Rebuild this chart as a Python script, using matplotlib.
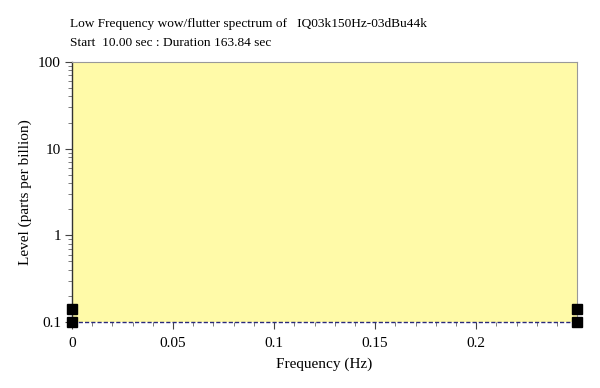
import matplotlib
matplotlib.use("Agg")
import matplotlib.pyplot as plt
from matplotlib.ticker import FixedLocator, LogLocator, NullFormatter

# data
freq = [0.0, 0.2499]
level = [0.1, 0.1]
marker_freq = [0.0, 0.0, 0.2499, 0.2499]
marker_level = [0.1, 0.141, 0.1, 0.141]
xticks = [0, 0.05, 0.1, 0.15, 0.2]
xticklabels = ["0", "0.05", "0.1", "0.15", "0.2"]
yticks = [0.1, 1, 10, 100]
yticklabels = ["0.1", "1", "10", "100"]

plt.rcParams['font.family'] = ['Liberation Serif', 'DejaVu Serif']

fig = plt.figure(figsize=(6, 3.88), dpi=100)
fig.patch.set_facecolor("white")
ax = fig.add_axes([0.12, 0.1701, 0.8417, 0.6701])
ax.set_facecolor("#fffaa8")

ax.plot(freq, level, color="#2a2a7a", lw=1.0, ls=(0, (3, 1.5)), clip_on=False, zorder=3)
ax.plot(marker_freq, marker_level, ls="none", marker="s", ms=7, color="black",
        clip_on=False, zorder=4)

ax.set_yscale("log")
ax.set_xlim(0, 0.2499)
ax.set_ylim(0.1, 100)

ax.xaxis.set_major_locator(FixedLocator(xticks))
ax.set_xticklabels(xticklabels)
ax.xaxis.set_minor_locator(FixedLocator([i * 0.01 for i in range(25)]))
ax.yaxis.set_major_locator(FixedLocator(yticks))
ax.set_yticklabels(yticklabels)
ax.yaxis.set_minor_locator(LogLocator(base=10, subs=range(2, 10)))
ax.yaxis.set_minor_formatter(NullFormatter())

ax.tick_params(axis="both", which="major", labelsize=11, color="#444444", length=5, width=0.8)
ax.tick_params(axis="both", which="minor", color="#666666", length=3, width=0.6)
ax.tick_params(axis="x", pad=6)
ax.tick_params(axis="y", pad=3)

for side in ["top", "right"]:
    ax.spines[side].set_color("#999999")
    ax.spines[side].set_linewidth(0.8)
ax.spines["left"].set_color("#333333")
ax.spines["left"].set_linewidth(1.0)
ax.spines["bottom"].set_visible(False)

ax.set_xlabel("Frequency (Hz)", fontsize=11, labelpad=5)
ax.set_ylabel("Level (parts per billion)", fontsize=11, labelpad=4)

fig.text(70 / 600, 1 - 24 / 388, "Low Frequency wow/flutter spectrum of   IQ03k150Hz-03dBu44k",
         fontsize=9.6, va="center", ha="left")
fig.text(70 / 600, 1 - 43 / 388, "Start  10.00 sec : Duration 163.84 sec",
         fontsize=9.6, va="center", ha="left")

fig.savefig("out.png", dpi=100)
